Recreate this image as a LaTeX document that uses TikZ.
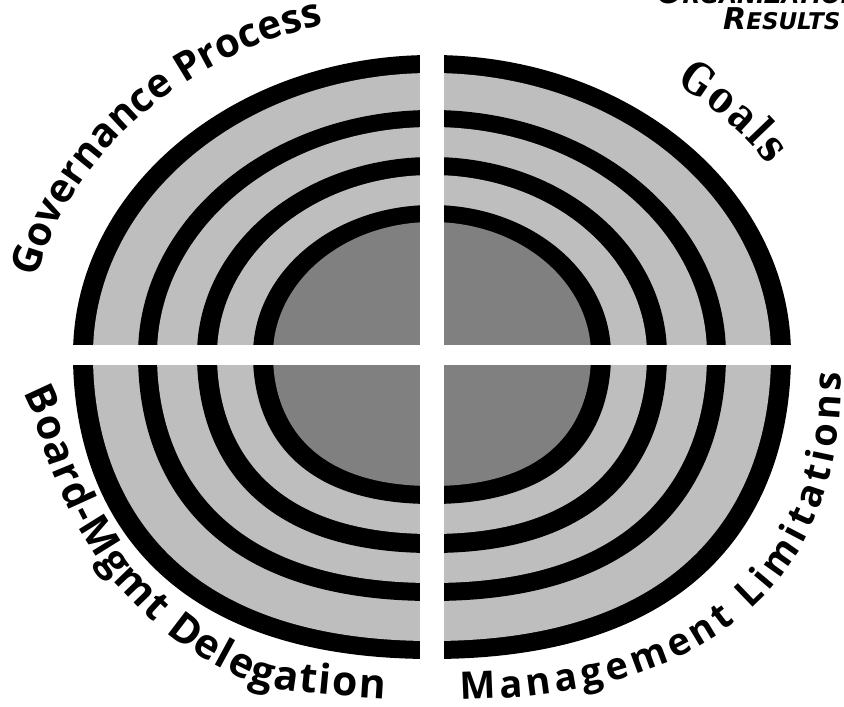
\documentclass[tikz,border=0pt]{standalone}
\usepackage{fontspec}
\setmainfont{Open Sans}
\newfontfamily\goalsfont{DejaVu Serif}[FakeStretch=0.82]
\newfontfamily\headfont{DejaVu Sans}
\usetikzlibrary{decorations.text}
\definecolor{ringlight}{RGB}{190,190,190}
\definecolor{ringcore}{RGB}{128,128,128}
\tikzset{
  labeltext/.style={decorate, decoration={text along path, text align=fit to path, text={#1}}},
  headtext/.style={anchor=base west, inner sep=0pt, font=\headfont\bfseries\itshape}
}
\begin{document}
\begin{tikzpicture}[x=1pt,y=1pt]
\useasboundingbox (-432,-352) rectangle (412,355);
\clip (-432,-352) rectangle (412,355);
% upper half: elliptical rings
\foreach \a/\b/\c in {359/300/black, 339/282/ringlight, 294/245/black, 275/228/ringlight, 235/198/black, 215/180/ringlight, 179/150/black, 159/133/ringcore}
  \fill[\c] (-\a,0) arc[start angle=180, end angle=0, x radius=\a pt, y radius=\b pt] -- cycle;
% lower half: fuller rings
\foreach \a/\b/\c in {359/304/black, 339/286/ringlight, 294/246/black, 275/228/ringlight, 235/198/black, 215/179/ringlight, 179/149/black, 159/131/ringcore}
  \fill[\c, xscale=\a, yscale=\b] (-1,0) .. controls (-1,-0.45) and (-0.8,-1) .. (0,-1) .. controls (0.8,-1) and (1,-0.45) .. (1,0) -- cycle;
% white cross
\fill[white] (-12,-360) rectangle (12,360);
\fill[white] (-440,-10) rectangle (420,10);
% labels
\path[labeltext={|\fontsize{40}{40}\selectfont\bfseries|Governance Process}]
  (167:406pt and 343pt) arc[start angle=167, end angle=106, x radius=406pt, y radius=343pt];
\path[labeltext={|\goalsfont\fontsize{44}{44}\selectfont\bfseries|Goals}]
  (53:406pt and 340pt) arc[start angle=53, end angle=34, x radius=406pt, y radius=340pt];
\path[labeltext={|\fontsize{41}{41}\selectfont\bfseries|Board-Mgmt Delegation}]
  plot[smooth] coordinates {(-409.3,-37.7) (-398.5,-61.1) (-379.3,-117.6) (-353.0,-174.2) (-314.1,-230.8) (-253.4,-287.4) (-188.6,-324.6) (-149.7,-334.7) (-82,-341.6) (-46.8,-344)};
\path[labeltext={|\fontsize{38}{38}\selectfont\bfseries|Management Limitations}]
  plot[smooth] coordinates {(28.0,-344.8) (101.0,-340.8) (173.8,-328.2) (235.5,-307.5) (287.9,-278.7) (331.2,-242.3) (365.4,-198.1) (390.1,-146.3) (405.0,-85.0) (409.9,-17.7)};
% header
\node[headtext] (org) at (225,351) {\fontsize{30}{30}\selectfont O\fontsize{23}{23}\selectfont RGANIZATIONAL};
\node[headtext] (res) at (291,325) {\fontsize{30}{30}\selectfont R\fontsize{23}{23}\selectfont ESULTS};
\end{tikzpicture}
\end{document}
